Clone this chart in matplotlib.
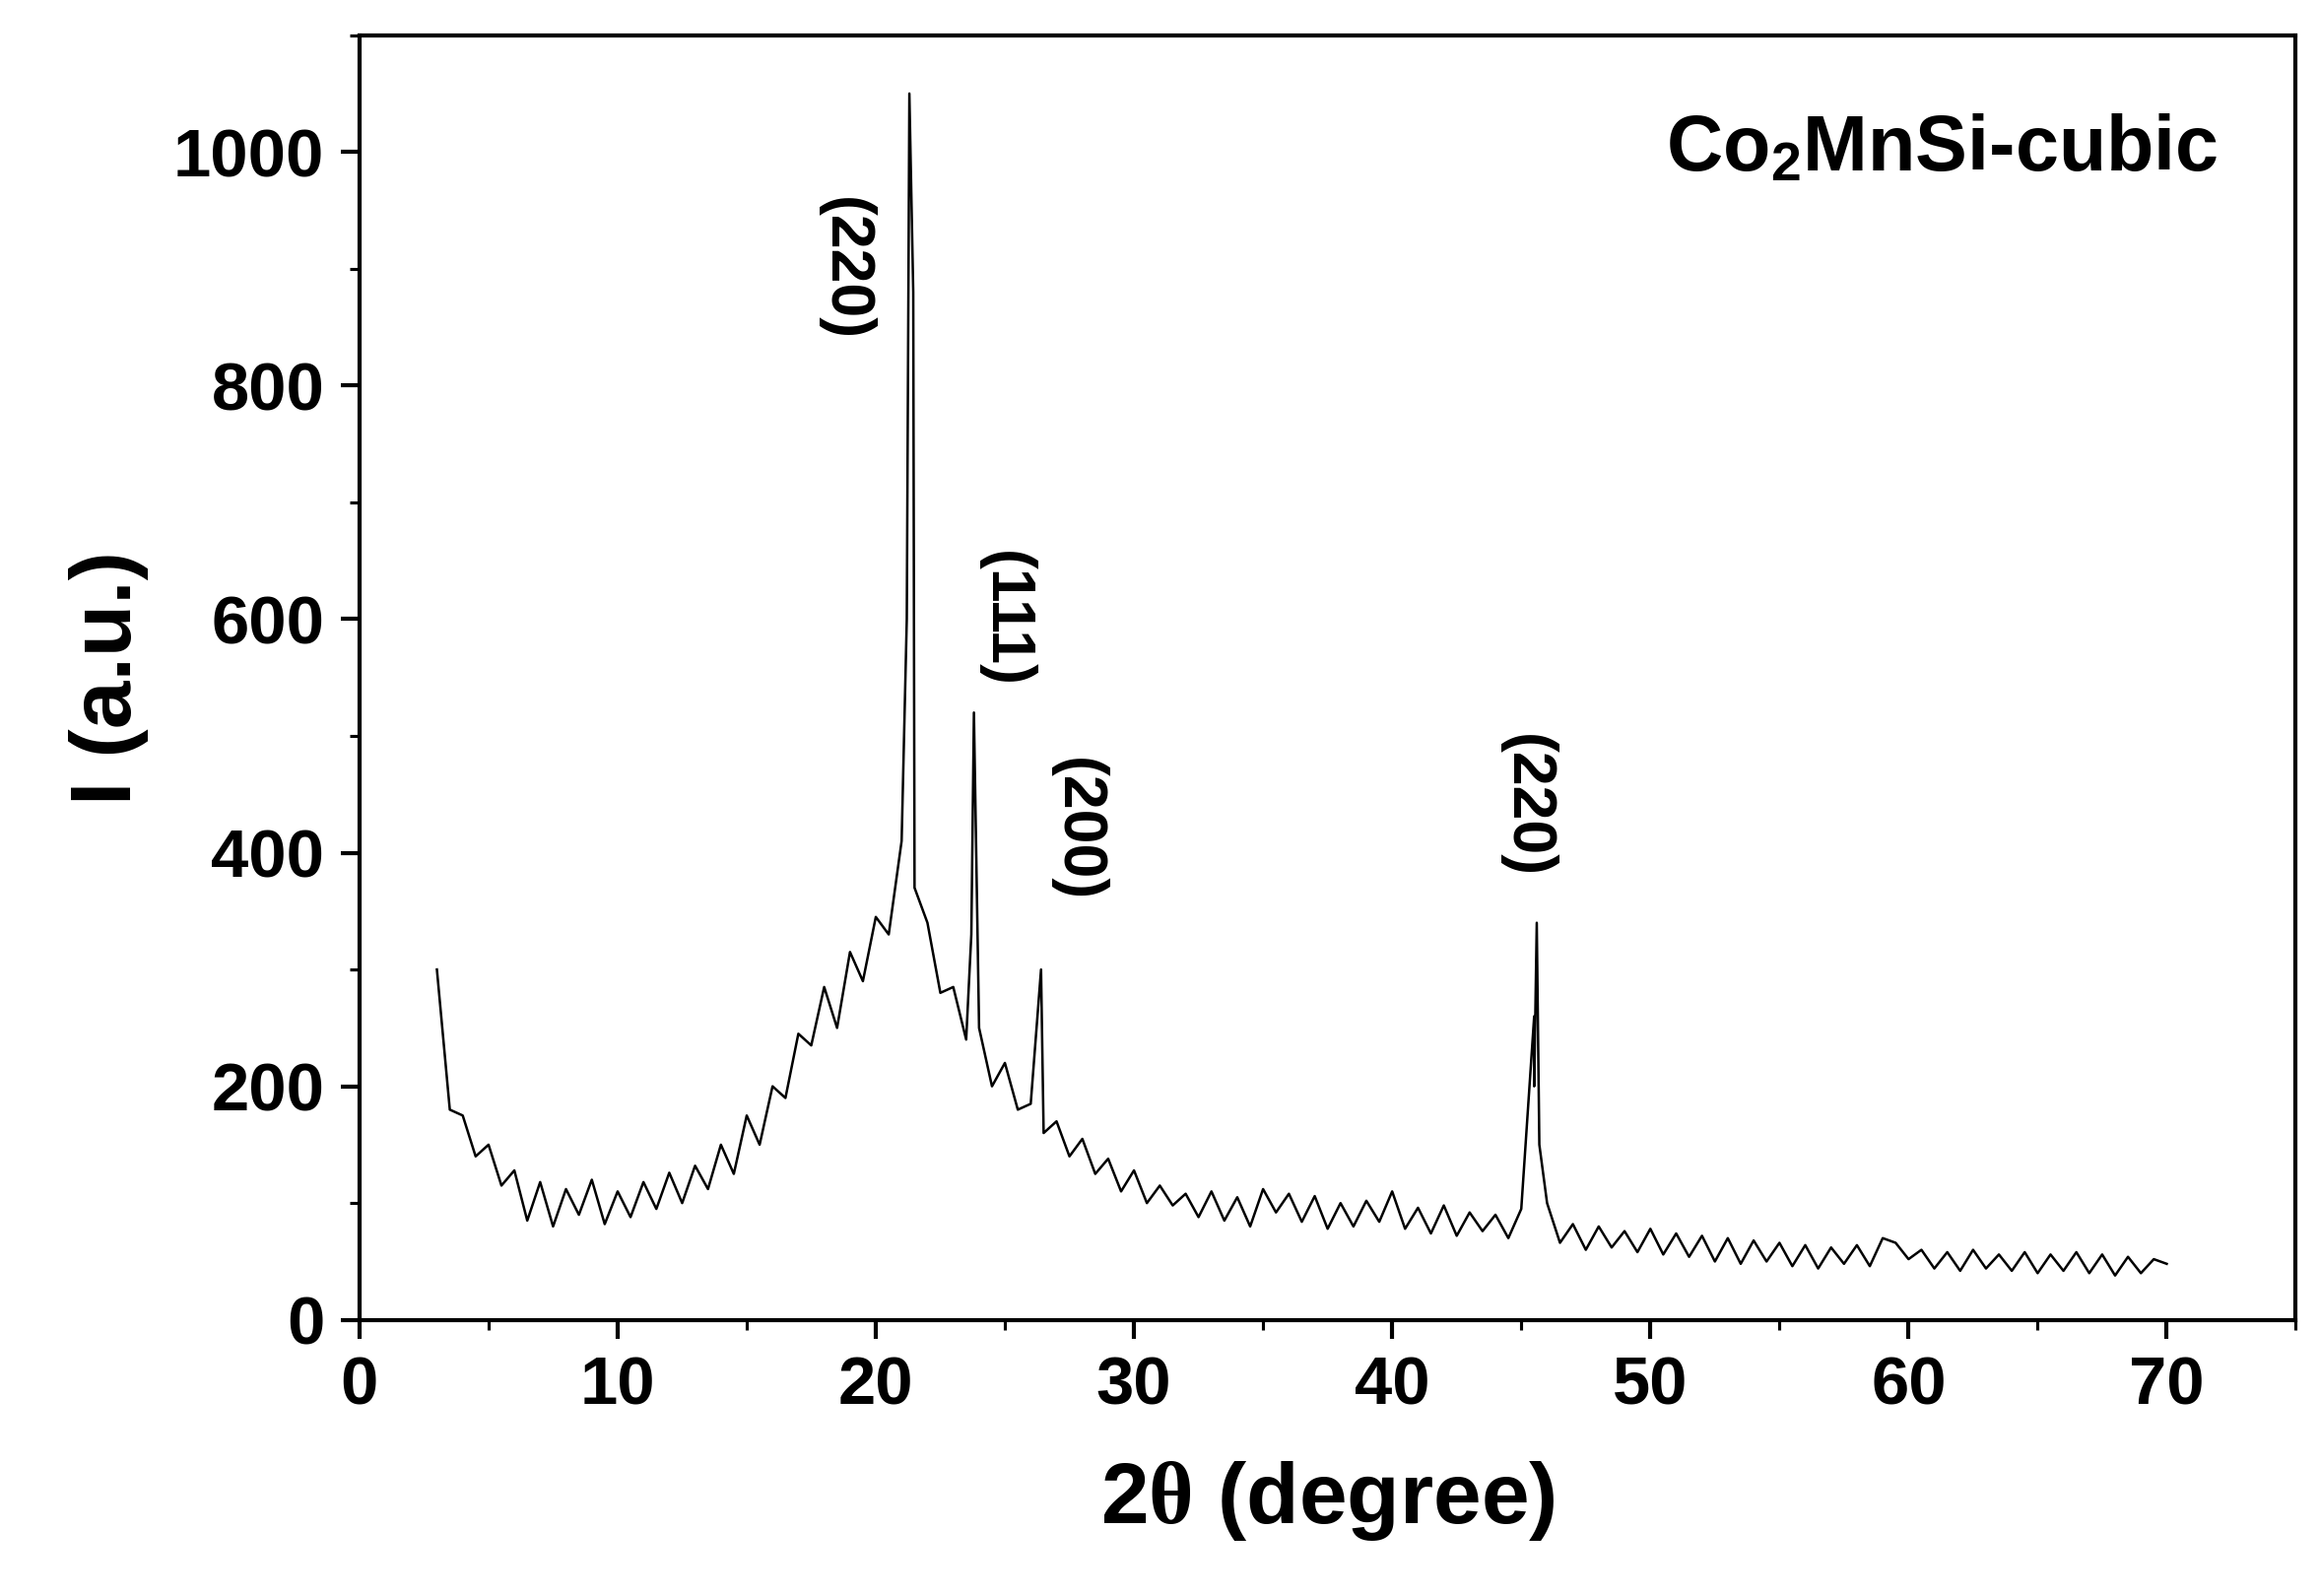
import numpy as np
import matplotlib
matplotlib.use("Agg")
import matplotlib.pyplot as plt
from matplotlib.ticker import MultipleLocator

# background pattern sampled every 0.5 degree from 3 to 70
two_theta_start = 3.0
two_theta_step = 0.5
intensity = [
    300, 180, 175, 140, 150, 115, 128, 85, 118, 80,
    112, 90, 120, 82, 110, 88, 118, 95, 126, 100,
    132, 112, 150, 125, 175, 150, 200, 190, 245, 235,
    285, 250, 315, 290, 345, 330, 410, 370, 340, 280,
    285, 240, 250, 200, 220, 180, 185, 160, 170, 140,
    155, 125, 138, 110, 128, 100, 115, 98, 108, 88,
    110, 85, 105, 80, 112, 92, 108, 84, 106, 78,
    100, 80, 102, 84, 110, 78, 96, 74, 98, 72,
    92, 76, 90, 70, 95, 200, 100, 66, 82, 60,
    80, 62, 76, 58, 78, 56, 74, 54, 72, 50,
    70, 48, 68, 50, 66, 46, 64, 44, 62, 48,
    64, 46, 70, 66, 52, 60, 44, 58, 42, 60,
    44, 56, 42, 58, 40, 56, 42, 58, 40, 56,
    38, 54, 40, 52, 48,
]

# sharp reflections
peak_x = [21.2, 21.3, 21.45, 23.7, 23.8, 26.4, 45.5, 45.6, 45.7]
peak_y = [600, 1050, 880, 330, 520, 300, 260, 340, 150]

labels = ["(220)", "(111)", "(200)", "(220)"]
label_x = [18.8, 25.0, 27.8, 45.2]
label_y = [900, 600, 420, 440]

x = two_theta_start + two_theta_step * np.arange(len(intensity))
xs = np.concatenate([x, peak_x])
ys = np.concatenate([intensity, peak_y])
order = np.argsort(xs)
xs, ys = xs[order], ys[order]

plt.rcParams["font.family"] = ["Liberation Sans", "DejaVu Sans"]
plt.rcParams["font.weight"] = "bold"
plt.rcParams["mathtext.fontset"] = "custom"
plt.rcParams["mathtext.rm"] = "Liberation Sans:bold"
plt.rcParams["mathtext.it"] = "Liberation Serif:bold"

fig = plt.figure(figsize=(2354 / 150, 1620 / 150), dpi=150)
ax = fig.add_axes([0.155, 0.173, 0.835, 0.805])
ax.plot(xs, ys, color="black", lw=1.2)

ax.set_xlim(0, 75)
ax.set_ylim(0, 1100)
ax.xaxis.set_major_locator(MultipleLocator(10))
ax.xaxis.set_minor_locator(MultipleLocator(5))
ax.yaxis.set_major_locator(MultipleLocator(200))
ax.yaxis.set_minor_locator(MultipleLocator(100))
ax.tick_params(which="major", length=9, width=2, labelsize=33, pad=8)
ax.tick_params(which="minor", length=5, width=1.5)
for s in ax.spines.values():
    s.set_linewidth(2)

ax.set_xlabel(r"2$\mathit{\theta}$ (degree)", fontsize=42, fontweight="bold", labelpad=20)
ax.set_ylabel("I (a.u.)", fontsize=42, fontweight="bold", labelpad=12)

for lx, ly, t in zip(label_x, label_y, labels):
    ax.text(lx, ly, t, rotation=270, fontsize=30, fontweight="bold",
            ha="center", va="center")

ax.text(0.96, 0.91, r"Co$_\mathregular{2}$MnSi-cubic", transform=ax.transAxes,
        fontsize=38, fontweight="bold", ha="right", va="center")

fig.savefig("out.png", dpi=150, facecolor="white")
